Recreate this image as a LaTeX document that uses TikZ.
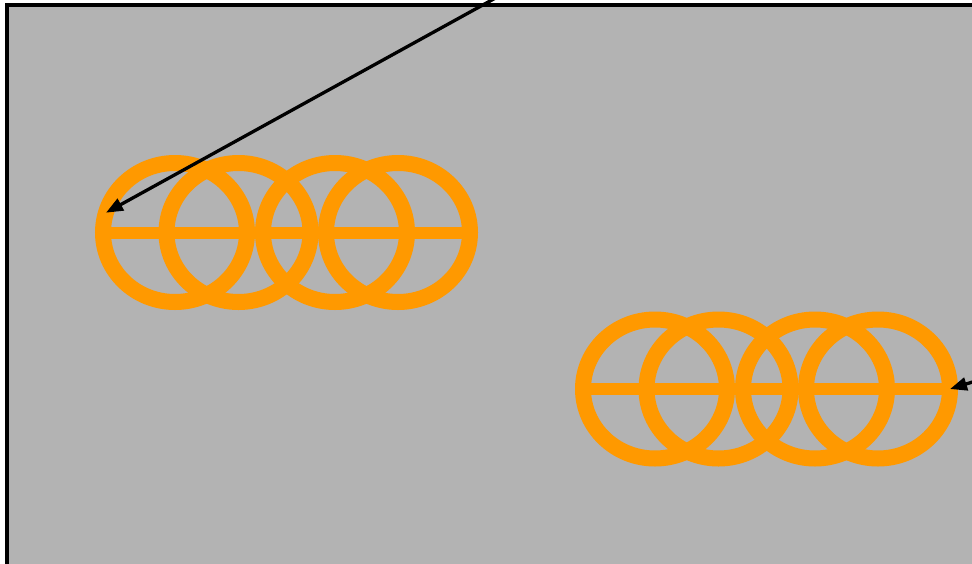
\documentclass[tikz,border=0pt]{standalone}
\usepackage{tikz}
\usepackage{xcolor}
\usetikzlibrary{arrows.meta,shapes.geometric}
\definecolor{ringorange}{RGB}{255,153,0}
\definecolor{panelgray}{RGB}{179,179,179}

\begin{document}
\begin{tikzpicture}[x=1pt,y=-1pt,
  ring/.style={ellipse,draw=ringorange,line width=16pt,inner sep=0pt,outer sep=0pt,minimum width=144pt,minimum height=139pt},
  bar/.style={draw=ringorange,line width=12pt},
  pointer/.style={-{Triangle[length=17pt,width=13pt]},line width=3.3pt}]
\useasboundingbox (0,0) rectangle (972,563);
\clip (0,0) rectangle (972,563);
\draw[fill=panelgray,line width=3.5pt] (7,5) rectangle (1000,600);
\foreach \n/\dx in {1/0,2/63.5,3/160,4/223} {
  \node[ring] (a\n) at (175+\dx,232.5) {};
  \node[ring] (b\n) at (655+\dx,389) {};
}
\draw[bar] (a1.west) -- (a4.east);
\draw[bar] (b1.west) -- (b4.east);
\coordinate (srcA) at (510,-10);
\coordinate (srcB) at (995,375);
\draw[pointer] (srcA) -- (a1.164);
\draw[pointer] (srcB) -- (b4.east);
\end{tikzpicture}
\end{document}
